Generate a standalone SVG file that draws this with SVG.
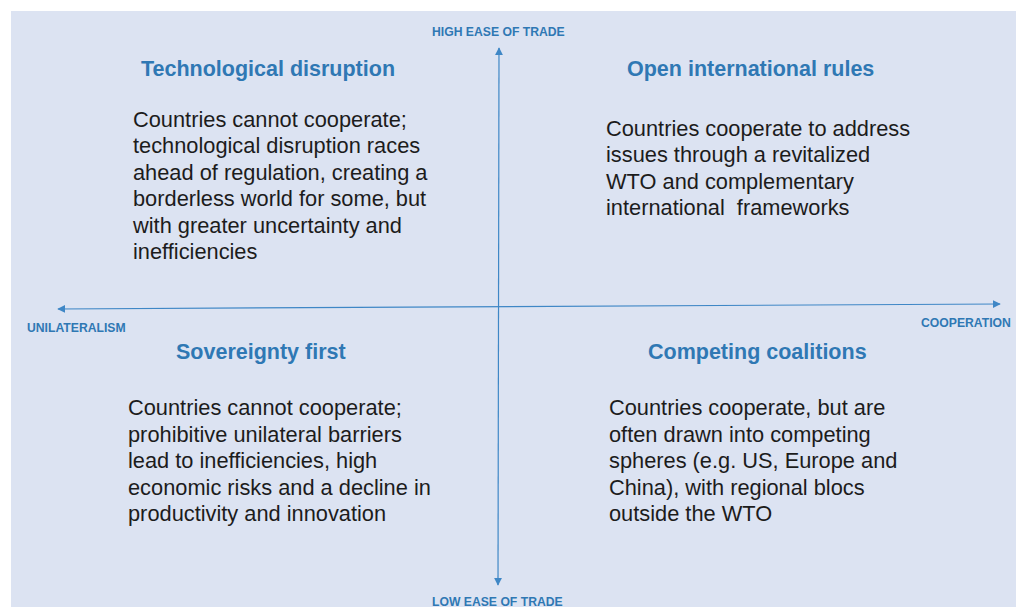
<svg xmlns="http://www.w3.org/2000/svg" width="1016" height="607" viewBox="0 0 1016 607">
  <defs>
    <style>
      .bg { fill: #dce3f2; }
      .axis { stroke: #3f87c6; stroke-width: 1.2; fill: none; marker-start: url(#arrow); marker-end: url(#arrow); }
      .axis-label { font-family: "Liberation Sans", Arial, sans-serif; font-size: 12.2px; font-weight: bold; fill: #2f78b4; }
      .title { font-family: "Liberation Sans", Arial, sans-serif; font-size: 21.5px; font-weight: bold; fill: #2f78b4; }
      .body { font-family: "Liberation Sans", Arial, sans-serif; font-size: 21.8px; fill: #1c1c1c; }
    </style>
    <marker id="arrow" viewBox="0 0 10 10" refX="9" refY="5" markerWidth="8" markerHeight="8" markerUnits="userSpaceOnUse" orient="auto-start-reverse">
      <path d="M0,0 L10,5 L0,10 Z" fill="#3f87c6"/>
    </marker>
  </defs>

  <rect class="bg" x="11" y="11" width="1005" height="596"/>

  <!-- axes: ease of trade (vertical), unilateralism to cooperation (horizontal) -->
  <g id="connectors">
    <line class="axis" x1="499" y1="48" x2="498" y2="585"/>
    <line class="axis" x1="58" y1="309" x2="1000" y2="304"/>
  </g>

  <!-- axis labels -->
  <g id="axis-labels">
    <text class="axis-label" x="432" y="36">HIGH EASE OF TRADE</text>
    <text class="axis-label" x="432" y="606">LOW EASE OF TRADE</text>
    <text class="axis-label" x="27" y="332">UNILATERALISM</text>
    <text class="axis-label" x="921" y="327">COOPERATION</text>
  </g>

  <!-- quadrant: top left -->
  <g id="technological-disruption">
    <text class="title" x="141" y="76">Technological disruption</text>
    <text class="body" x="133" y="127">Countries cannot cooperate;</text>
    <text class="body" x="133" y="153">technological disruption races</text>
    <text class="body" x="133" y="180">ahead of regulation, creating a</text>
    <text class="body" x="133" y="206">borderless world for some, but</text>
    <text class="body" x="133" y="233">with greater uncertainty and</text>
    <text class="body" x="133" y="259">inefficiencies</text>
  </g>

  <!-- quadrant: top right -->
  <g id="open-international-rules">
    <text class="title" x="627" y="76">Open international rules</text>
    <text class="body" x="606" y="136">Countries cooperate to address</text>
    <text class="body" x="606" y="162">issues through a revitalized</text>
    <text class="body" x="606" y="189">WTO and complementary</text>
    <text class="body" x="606" y="215" xml:space="preserve">international  frameworks</text>
  </g>

  <!-- quadrant: bottom left -->
  <g id="sovereignty-first">
    <text class="title" x="176" y="359">Sovereignty first</text>
    <text class="body" x="128" y="415">Countries cannot cooperate;</text>
    <text class="body" x="128" y="442">prohibitive unilateral barriers</text>
    <text class="body" x="128" y="468">lead to inefficiencies, high</text>
    <text class="body" x="128" y="495">economic risks and a decline in</text>
    <text class="body" x="128" y="521">productivity and innovation</text>
  </g>

  <!-- quadrant: bottom right -->
  <g id="competing-coalitions">
    <text class="title" x="648" y="359">Competing coalitions</text>
    <text class="body" x="609" y="415">Countries cooperate, but are</text>
    <text class="body" x="609" y="442">often drawn into competing</text>
    <text class="body" x="609" y="468">spheres (e.g. US, Europe and</text>
    <text class="body" x="609" y="495">China), with regional blocs</text>
    <text class="body" x="609" y="521">outside the WTO</text>
  </g>
</svg>
